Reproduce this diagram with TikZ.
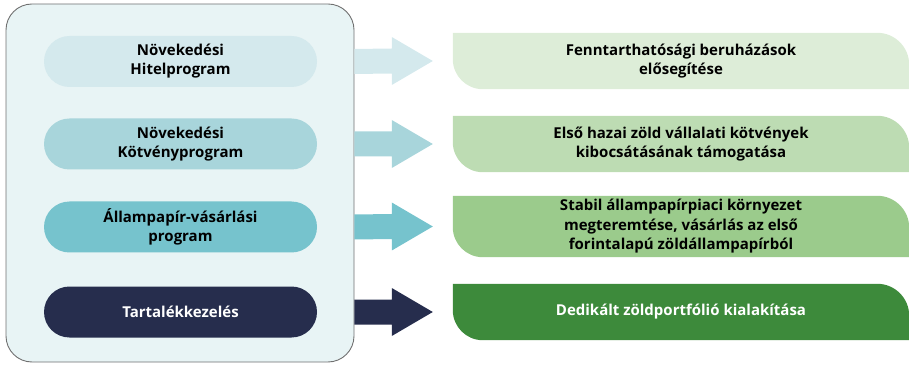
\documentclass[tikz,border=0pt]{standalone}
\usepackage{fontspec}
\setmainfont{Open Sans}
\usetikzlibrary{calc,backgrounds}
\definecolor{contfill}{HTML}{E8F4F5}
\definecolor{contline}{HTML}{707070}
\definecolor{cA}{HTML}{D4E9ED}
\definecolor{cB}{HTML}{A8D5DB}
\definecolor{cC}{HTML}{76C3CD}
\definecolor{cD}{HTML}{262D4D}
\definecolor{gA}{HTML}{DDEDD8}
\definecolor{gB}{HTML}{BDDCB3}
\definecolor{gC}{HTML}{9BCB8C}
\definecolor{gD}{HTML}{3D8A3B}
\tikzset{
  pill/.style={rounded corners=25.5pt, minimum width=273pt, minimum height=51pt, inner sep=0pt,
    align=center, font=\bfseries\fontsize{15}{19}\selectfont},
  gbox/.style={minimum width=456pt, minimum height=56pt, inner sep=0pt, align=center,
    font=\bfseries\fontsize{15}{19.5}\selectfont},
}
\newcommand\leafshape[2]{%
  \begin{scope}[on background layer]
  \fill[#2] (#1.north west) -- ([xshift=-32pt]#1.north east) arc(90:0:32pt)
    -- (#1.south east) -- ([xshift=30pt]#1.south west) arc(270:180:30pt) -- cycle;
  \end{scope}}
\newcommand\fatarrow[4]{%
  \fill[#4] ($(#1.east|-#2.center)+(0,12.5pt)$) -- ($(#3.west)+(-61pt,12.5pt)$)
    -- ($(#3.west)+(-61pt,24pt)$) -- ($(#3.west)+(-20pt,0)$)
    -- ($(#3.west)+(-61pt,-24pt)$) -- ($(#3.west)+(-61pt,-12.5pt)$)
    -- ($(#1.east|-#2.center)+(0,-12.5pt)$) -- cycle;}
\begin{document}
\begin{tikzpicture}[x=1pt,y=1pt]
\useasboundingbox (0,0) rectangle (909,364);
\node[draw=contline, line width=0.9pt, fill=contfill, rounded corners=26pt,
  minimum width=348pt, minimum height=358pt, inner sep=0pt] (cont) at (180,181) {};
\node[pill, fill=cA] (p1) at (180.5,302.5) {Növekedési\\Hitelprogram};
\node[pill, fill=cB] (p2) at (180.5,220) {Növekedési\\Kötvényprogram};
\node[pill, fill=cC] (p3) at (180.5,137) {Állampapír-vásárlási\\program};
\node[pill, fill=cD, text=white] (p4) at (180.5,52) {Tartalékkezelés};
\node[gbox] (b1) at (681,303) {Fenntarthatósági beruházások\\elősegítése};
\node[gbox] (b2) at (681,220) {Első hazai zöld vállalati kötvények\\kibocsátásának támogatása};
\node[gbox, minimum height=61pt] (b3) at (681,137.5) {Stabil állampapírpiaci környezet\\megteremtése, vásárlás az első\\forintalapú zöldállampapírból};
\node[gbox, text=white] (b4) at (681,52) {Dedikált zöldportfólió kialakítása};
\leafshape{b1}{gA}
\leafshape{b2}{gB}
\leafshape{b3}{gC}
\leafshape{b4}{gD}
\fatarrow{cont}{p1}{b1}{cA}
\fatarrow{cont}{p2}{b2}{cB}
\fatarrow{cont}{p3}{b3}{cC}
\fatarrow{cont}{p4}{b4}{cD}
\end{tikzpicture}
\end{document}
